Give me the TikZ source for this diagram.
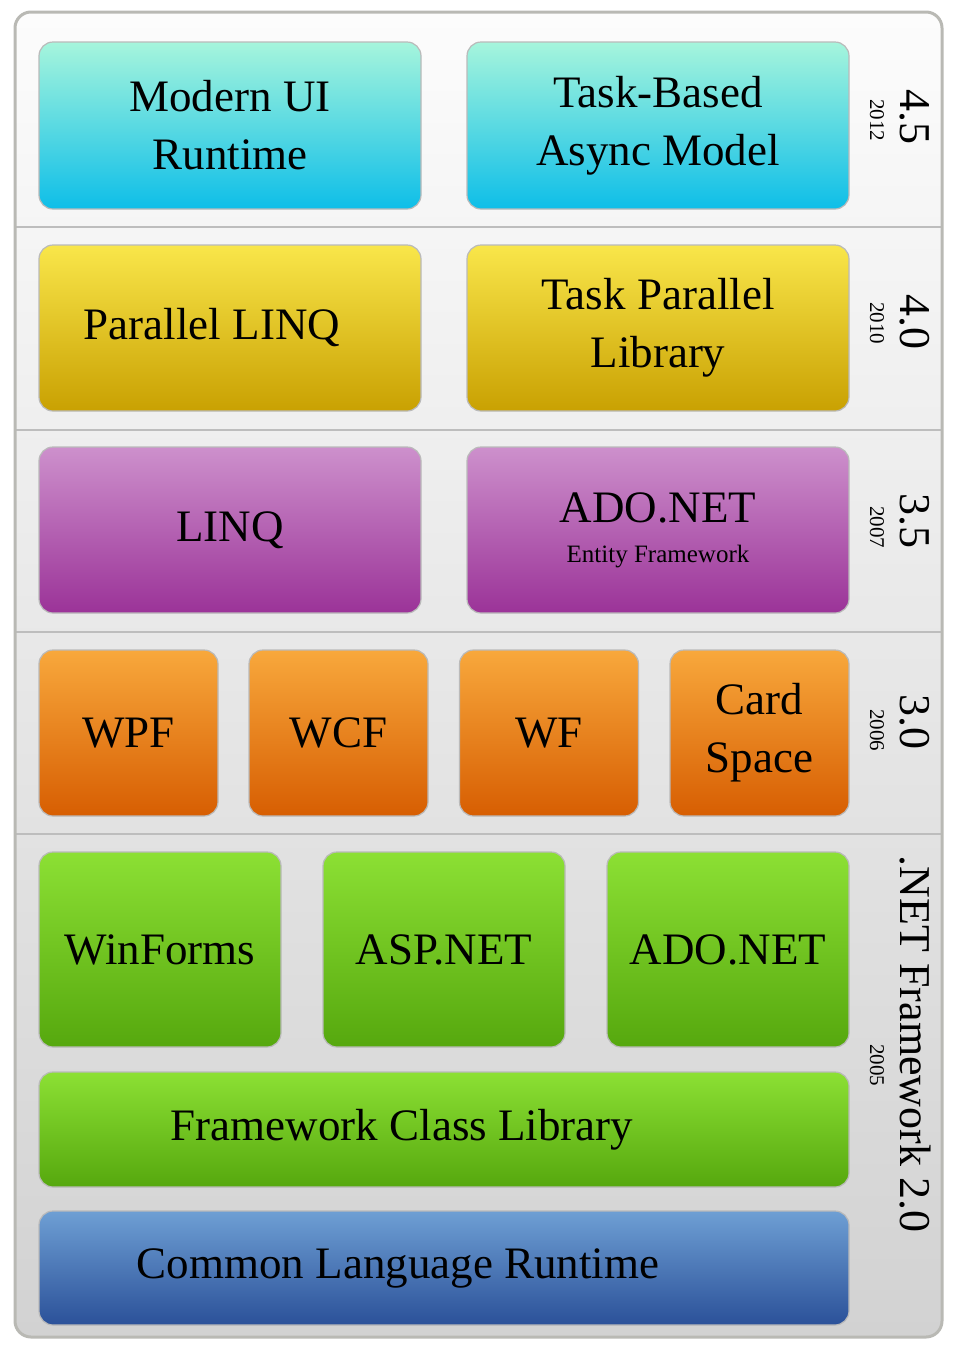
\documentclass[tikz,border=0pt]{standalone}
\usepackage{fontspec}
\setmainfont{Liberation Serif}
\usetikzlibrary{positioning}

% Layer colours
\definecolor{frameTop}{HTML}{FCFCFC}
\definecolor{frameBot}{HTML}{D2D2D2}
\definecolor{frameLine}{HTML}{B9B9B4}
\definecolor{sepLine}{HTML}{BDBDBD}
\definecolor{cyanTop}{HTML}{A6F5DC}
\definecolor{cyanBot}{HTML}{0EBEE8}
\definecolor{yellowTop}{HTML}{F9E64A}
\definecolor{yellowBot}{HTML}{C9A102}
\definecolor{purpleTop}{HTML}{CD90CC}
\definecolor{purpleBot}{HTML}{9B3398}
\definecolor{orangeTop}{HTML}{F8A83C}
\definecolor{orangeBot}{HTML}{D75E02}
\definecolor{greenTop}{HTML}{8CE034}
\definecolor{greenBot}{HTML}{56A80E}
\definecolor{blueTop}{HTML}{6E9FD4}
\definecolor{blueBot}{HTML}{2B5199}

\begin{document}
\begin{tikzpicture}[x=1pt,y=-1pt,
  layer/.style={draw=black!27, line width=1.2pt, rounded corners=14pt,
    inner sep=0pt, align=center, font=\fontsize{45}{58}\selectfont},
  cyanbox/.style={layer, top color=cyanTop, bottom color=cyanBot},
  yellowbox/.style={layer, top color=yellowTop, bottom color=yellowBot},
  purplebox/.style={layer, top color=purpleTop, bottom color=purpleBot},
  orangebox/.style={layer, top color=orangeTop, bottom color=orangeBot},
  greenbox/.style={layer, top color=greenTop, bottom color=greenBot},
  bluebox/.style={layer, top color=blueTop, bottom color=blueBot},
  boxtext/.style={inner sep=0pt, font=\fontsize{45}{58}\selectfont},
  version/.style={rotate=-90, anchor=base, inner sep=0pt, font=\fontsize{44}{44}\selectfont},
  year/.style={rotate=-90, anchor=base, inner sep=0pt, font=\fontsize{21}{21}\selectfont}]
  \useasboundingbox (0,0) rectangle (958,1350);

  % Frame
  \shade[top color=frameTop, bottom color=frameBot, rounded corners=16pt]
    (15,12) rectangle (942,1337);
  \foreach \y in {227,430,632,834}
    \draw[sepLine, line width=2pt] (15,\y) -- (942,\y);
  \draw[frameLine, line width=3pt, rounded corners=16pt] (15,12) rectangle (942,1337);

  % Version 4.5
  \node[cyanbox, minimum width=382, minimum height=167] (modernui) at (230,125.5) {Modern UI\\Runtime};
  \node[cyanbox, minimum width=382, minimum height=167] (tap) at (658,125.5) {Task-Based\\Async Model};
  \node[version] (v45) at (900,117) {4.5};
  \node[year] (y45) at (870,120) {2012};

  % Version 4.0
  \node[yellowbox, minimum width=382, minimum height=166] (plinq) at (230,328) {};
  \node[boxtext] (plinqtext) at (212,328) {Parallel LINQ};
  \node[yellowbox, minimum width=382, minimum height=166] (tpl) at (658,328) {Task Parallel\\Library};
  \node[version] (v40) at (900,322) {4.0};
  \node[year] (y40) at (870,323) {2010};

  % Version 3.5
  \node[purplebox, minimum width=382, minimum height=166] (linq) at (230,530) {LINQ};
  \node[purplebox, minimum width=382, minimum height=166,
    font=\fontsize{45}{40}\selectfont] (ef) at (658,530)
    {ADO.NET\\{\fontsize{25}{40}\selectfont Entity Framework}};
  \node[version] (v35) at (900,521) {3.5};
  \node[year] (y35) at (870,527) {2007};

  % Version 3.0
  \node[orangebox, minimum width=179, minimum height=166] (wpf) at (128.5,733) {WPF};
  \node[orangebox, minimum width=179, minimum height=166] (wcf) at (338.5,733) {WCF};
  \node[orangebox, minimum width=179, minimum height=166] (wf) at (549,733) {WF};
  \node[orangebox, minimum width=179, minimum height=166] (cardspace) at (759.5,733) {Card\\Space};
  \node[version] (v30) at (900,722) {3.0};
  \node[year] (y30) at (870,730) {2006};

  % .NET Framework 2.0
  \node[greenbox, minimum width=242, minimum height=195] (winforms) at (160,949.5) {WinForms};
  \node[greenbox, minimum width=242, minimum height=195] (aspnet) at (444,949.5) {ASP.NET};
  \node[greenbox, minimum width=242, minimum height=195] (adonet) at (728,949.5) {ADO.NET};
  \node[greenbox, minimum width=810, minimum height=115] (fcl) at (444,1129.5) {};
  \node[boxtext] (fcltext) at (402,1129.5) {Framework Class Library};
  \node[bluebox, minimum width=810, minimum height=114] (clr) at (444,1268) {};
  \node[boxtext] (clrtext) at (398,1268) {Common Language Runtime};
  \node[version] (v20) at (900,1044) {.NET Framework 2.0};
  \node[year] (y20) at (870,1065) {2005};
\end{tikzpicture}
\end{document}
